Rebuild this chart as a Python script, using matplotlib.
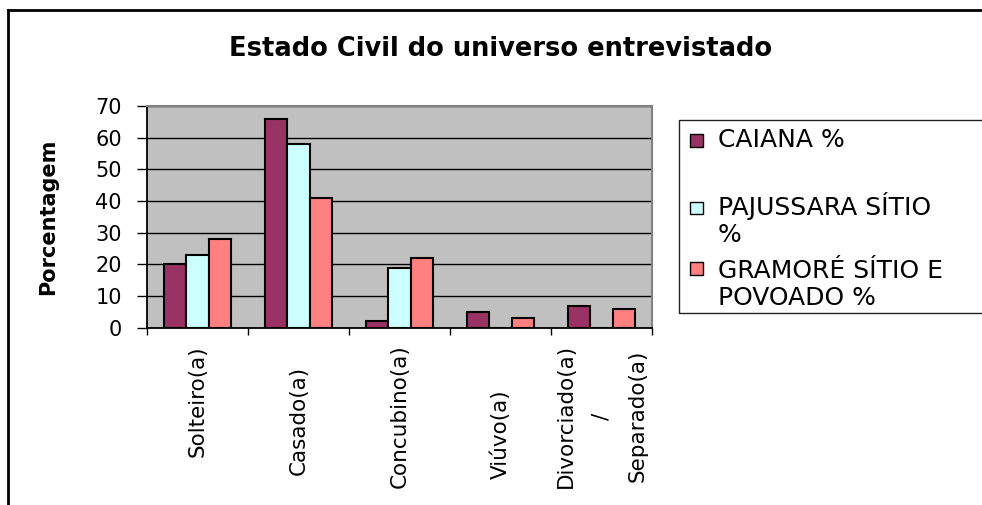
import matplotlib
matplotlib.use('Agg')
import matplotlib.pyplot as plt
from matplotlib.patches import Rectangle
from matplotlib.lines import Line2D
from matplotlib.transforms import blended_transform_factory
import numpy as np

plt.rcParams['font.family'] = ['DejaVu Sans']

title = "Estado Civil do universo entrevistado"
ylabel = "Porcentagem"
categories = ["Solteiro(a)", "Casado(a)", "Concubino(a)", "Viúvo(a)",
              "Divorciado(a)\n/\nSeparado(a)"]
series_names = ["CAIANA %", "PAJUSSARA SÍTIO\n%", "GRAMORÉ SÍTIO E\nPOVOADO %"]
caiana = [20, 66, 2, 5, 7]
pajussara = [23, 58, 19, 0, 0]
gramore = [28, 41, 22, 3, 6]
yticks = [0, 10, 20, 30, 40, 50, 60, 70]

colors = ['#993366', '#CCFFFF', '#FF8080']

W, H = 982, 505
fig = plt.figure(figsize=(W / 100, H / 100), dpi=100)


def fx(px):
    return px / W


def fy(py):
    return 1 - py / H


ax_l, ax_r, ax_t, ax_b = 147, 652, 106, 327.7
ax = fig.add_axes([fx(ax_l), fy(ax_b), fx(ax_r) - fx(ax_l), fy(ax_t) - fy(ax_b)])
ax.set_facecolor('#C0C0C0')

x = np.arange(len(categories))
w = 2 / 9
for i, (vals, c) in enumerate(zip([caiana, pajussara, gramore], colors)):
    ax.bar(x + (i - 1) * w, vals, width=w, color=c, edgecolor='black',
           linewidth=1.5, zorder=3)

ax.set_xlim(-0.5, len(categories) - 0.5)
ax.set_ylim(0, 70)
ax.set_yticks(yticks)
ax.set_yticklabels([str(v) for v in yticks])
ax.yaxis.grid(True, color='black', linewidth=1)
ax.set_axisbelow(True)
ax.set_xticks(np.arange(-0.5, len(categories), 1))
ax.set_xticklabels([])
ax.tick_params(axis='x', direction='out', length=5, width=1, color='black')
ax.tick_params(axis='y', direction='out', length=7, width=1, color='black',
               labelsize=15, pad=11)
for s in ['left', 'bottom']:
    ax.spines[s].set_color('black')
    ax.spines[s].set_linewidth(1.3)
for s in ['top', 'right']:
    ax.spines[s].set_color('#808080')
    ax.spines[s].set_linewidth(1.5)

ax.set_ylabel(ylabel, fontsize=15, fontweight='bold')
ax.yaxis.set_label_coords((58 - ax_l) / (ax_r - ax_l), 0.5)

# category labels
trans = blended_transform_factory(ax.transData, fig.transFigure)
label_centers_px = [401, 420, 416, 434, 416]
for xi, lab, cy in zip(x, categories, label_centers_px):
    ax.text(xi, fy(cy), lab, transform=trans, rotation=90, ha='center',
            va='center', fontsize=15.5, linespacing=2.0, clip_on=False)

# title
fig.text(fx(500.5), fy(56), title, ha='center', va='baseline',
         fontsize=18.5, fontweight='bold')

# legend
fig.add_artist(Rectangle((fx(679), fy(313)), fx(1010) - fx(679),
                         fy(120) - fy(313), transform=fig.transFigure,
                         fill=False, edgecolor='#222222', linewidth=1))
square_tops = [134, 201.5, 261.5]
last_baselines = [147.3, 241.7, 305]
for name, c, top, bl in zip(series_names, colors, square_tops, last_baselines):
    fig.add_artist(Rectangle((fx(690), fy(top + 13)), fx(703) - fx(690),
                             fy(top) - fy(top + 13),
                             transform=fig.transFigure,
                             facecolor=c, edgecolor='black', linewidth=1))
    fig.text(fx(718), fy(bl), name, ha='left', va='baseline', fontsize=18,
             linespacing=1.15)

# outer frame
fig.add_artist(Line2D([fx(8), fx(8)], [fy(10), 0], transform=fig.transFigure,
                      color='black', linewidth=2))
fig.add_artist(Line2D([fx(8), 1], [fy(10), fy(10)], transform=fig.transFigure,
                      color='black', linewidth=2))

fig.savefig('out.png', dpi=100)
